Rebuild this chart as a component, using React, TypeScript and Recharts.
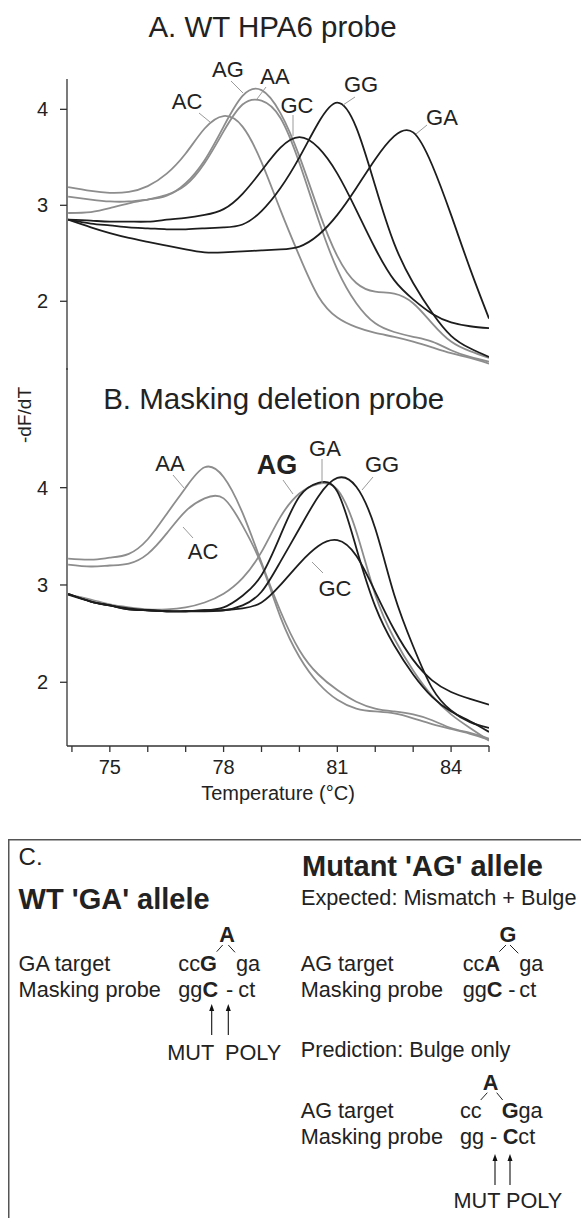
import { Label, Line, LineChart, XAxis, YAxis } from "recharts"

// temperature grid (°C) shared by every melt curve
const temps = [73.9, 74.5, 75, 75.5, 76, 76.5, 77, 77.5, 78, 78.5, 79, 79.5, 80, 80.5, 81, 81.5, 82, 82.5, 83, 83.5, 84, 84.5, 85]

// A. WT HPA6 probe, -dF/dT
const wtAC = [3.19, 3.15, 3.13, 3.14, 3.2, 3.33, 3.54, 3.8, 3.93, 3.82, 3.45, 2.95, 2.47, 2.05, 1.83, 1.73, 1.67, 1.63, 1.58, 1.52, 1.46, 1.41, 1.35]
const wtAG = [3.09, 3.06, 3.04, 3.04, 3.06, 3.1, 3.23, 3.47, 3.82, 4.14, 4.2, 3.96, 3.51, 2.95, 2.47, 2.19, 2.1, 2.08, 1.98, 1.77, 1.58, 1.48, 1.41]
const wtAA = [2.92, 2.93, 2.97, 3.02, 3.06, 3.11, 3.21, 3.44, 3.77, 4.05, 4.09, 3.91, 3.44, 2.85, 2.33, 1.98, 1.77, 1.68, 1.63, 1.58, 1.49, 1.42, 1.37]
const wtGC = [2.85, 2.84, 2.83, 2.83, 2.83, 2.85, 2.87, 2.9, 2.96, 3.12, 3.36, 3.6, 3.71, 3.6, 3.33, 2.95, 2.55, 2.22, 2.02, 1.87, 1.78, 1.74, 1.72]
const wtGG = [2.85, 2.81, 2.79, 2.77, 2.76, 2.75, 2.75, 2.76, 2.77, 2.8, 2.94, 3.18, 3.5, 3.86, 4.07, 3.81, 3.2, 2.6, 2.19, 1.88, 1.64, 1.51, 1.42]
const wtGA = [2.85, 2.77, 2.71, 2.66, 2.62, 2.58, 2.54, 2.51, 2.51, 2.52, 2.53, 2.54, 2.57, 2.69, 2.9, 3.18, 3.48, 3.72, 3.76, 3.42, 2.9, 2.34, 1.82]

// B. Masking deletion probe, -dF/dT
const maskAA = [3.27, 3.26, 3.28, 3.32, 3.47, 3.73, 4.0, 4.21, 4.11, 3.74, 3.23, 2.73, 2.33, 2.08, 1.92, 1.8, 1.73, 1.7, 1.67, 1.61, 1.53, 1.48, 1.42]
const maskAC = [3.21, 3.19, 3.2, 3.22, 3.32, 3.53, 3.76, 3.89, 3.89, 3.61, 3.21, 2.67, 2.26, 1.99, 1.82, 1.73, 1.7, 1.68, 1.63, 1.57, 1.52, 1.47, 1.41]
const maskAG = [2.9, 2.85, 2.8, 2.77, 2.75, 2.75, 2.77, 2.82, 2.91, 3.07, 3.34, 3.7, 3.94, 4.04, 3.98, 3.55, 2.9, 2.45, 2.12, 1.86, 1.67, 1.53, 1.4]
const maskGA = [2.91, 2.83, 2.79, 2.75, 2.74, 2.73, 2.73, 2.74, 2.77, 2.89, 3.1, 3.51, 3.91, 4.05, 3.96, 3.38, 2.78, 2.38, 2.08, 1.85, 1.7, 1.6, 1.49]
const maskGG = [2.91, 2.83, 2.79, 2.76, 2.74, 2.73, 2.73, 2.74, 2.74, 2.79, 2.93, 3.24, 3.58, 3.91, 4.1, 4.01, 3.58, 2.9, 2.37, 1.94, 1.71, 1.59, 1.53]
const maskGC = [2.9, 2.83, 2.79, 2.75, 2.74, 2.73, 2.73, 2.73, 2.74, 2.76, 2.82, 3.0, 3.22, 3.4, 3.46, 3.3, 2.93, 2.54, 2.23, 2.02, 1.9, 1.83, 1.77]

const yTicks = [2, 3, 4]
const xTicks = [74, 75, 76, 77, 78, 79, 80, 81, 82, 83, 84, 85]
const xTickLabels = [75, 78, 81, 84]

const GRAY = "#8d8d8d"
const DARK = "#1d1d1d"
const INK = "#222"
const FONT = "'Liberation Sans', Arial, Helvetica, sans-serif"

interface Series {
  name: string
  values: number[]
  color: string
}

const wtSeries: Series[] = [
  { name: "AC", values: wtAC, color: GRAY },
  { name: "AG", values: wtAG, color: GRAY },
  { name: "AA", values: wtAA, color: GRAY },
  { name: "GC", values: wtGC, color: DARK },
  { name: "GG", values: wtGG, color: DARK },
  { name: "GA", values: wtGA, color: DARK },
]

const maskSeries: Series[] = [
  { name: "AA", values: maskAA, color: GRAY },
  { name: "AC", values: maskAC, color: GRAY },
  { name: "AG", values: maskAG, color: GRAY },
  { name: "GA", values: maskGA, color: DARK },
  { name: "GG", values: maskGG, color: DARK },
  { name: "GC", values: maskGC, color: DARK },
]

function toRows(series: Series[]) {
  return temps.map((t, i) => {
    const row: Record<string, number> = { t }
    series.forEach((s) => {
      row[s.name] = s.values[i]
    })
    return row
  })
}

const axisStyle = { stroke: "#333", strokeWidth: 1.3 }
const tickStyle = { fontSize: 20, fill: INK, fontFamily: FONT }

// curve labels with their grey leader lines (page pixels)
const curveLabels = [
  { text: "AC", x: 187, y: 109, line: [199, 113, 210, 122] },
  { text: "AG", x: 228, y: 77, line: [231, 81, 243, 93] },
  { text: "AA", x: 275, y: 84, line: [266, 87, 257, 99] },
  { text: "GC", x: 297, y: 113, line: [293, 115, 293, 136] },
  { text: "GG", x: 361, y: 92, line: [355, 97, 343, 105] },
  { text: "GA", x: 442, y: 125, line: [427, 125, 416, 134] },
  { text: "AA", x: 170, y: 471, line: [173, 475, 184, 488] },
  { text: "AC", x: 203, y: 559, line: [193, 538, 183, 527] },
  { text: "AG", x: 277, y: 474, line: [283, 480, 293, 494], bold: true },
  { text: "GA", x: 325, y: 456, line: [322, 459, 322, 484] },
  { text: "GG", x: 382, y: 472, line: [373, 477, 362, 490] },
  { text: "GC", x: 335, y: 596, line: [323, 573, 312, 562] },
]

function Arrow({ x, y1, y2 }: { x: number; y1: number; y2: number }) {
  return (
    <g>
      <line x1={x} y1={y1} x2={x} y2={y2 + 5} stroke="#111" strokeWidth={1.1} />
      <polygon points={`${x - 2.5},${y2 + 7} ${x},${y2} ${x + 2.5},${y2 + 7}`} fill="#111" />
    </g>
  )
}

function Caret({ pts }: { pts: number[] }) {
  const [a, b, c, d, e, f, g, h] = pts
  return (
    <g stroke="#222" strokeWidth={1}>
      <line x1={a} y1={b} x2={c} y2={d} />
      <line x1={e} y1={f} x2={g} y2={h} />
    </g>
  )
}

function PanelC() {
  const fs = 21.7
  return (
    <g fontFamily={FONT} fill={INK}>
      <rect x={8.75} y={839.75} width={700} height={500} fill="none" stroke="#555" strokeWidth={1.5} />
      <text x={18.6} y={865} fontSize={24}>C.</text>
      <text x={18.6} y={909} fontSize={29} fontWeight="bold">WT 'GA' allele</text>
      <text x={302} y={876} fontSize={29} fontWeight="bold">Mutant 'AG' allele</text>
      <text x={301} y={905} fontSize={fs}>Expected: Mismatch + Bulge</text>

      <g fontSize={fs}>
        <text x={18.6} y={971}>GA target</text>
        <text x={18.6} y={997}>Masking probe</text>
        <text x={227} y={942} textAnchor="middle" fontWeight="bold">A</text>
        <Caret pts={[216.7, 951.7, 222.7, 945, 228.3, 945, 235, 952.3]} />
        <text x={178.3} y={971}>
          cc<tspan fontWeight="bold">G</tspan>
          <tspan x={236}>ga</tspan>
        </text>
        <text x={178.3} y={997}>
          gg<tspan fontWeight="bold">C</tspan>
          <tspan x={226}>-</tspan>
          <tspan x={238.3}>ct</tspan>
        </text>
        <Arrow x={211.7} y1={1035} y2={1004} />
        <Arrow x={228.3} y1={1035} y2={1004} />
        <text x={167.3} y={1060}>MUT</text>
        <text x={225} y={1060}>POLY</text>

        <text x={300.7} y={971}>AG target</text>
        <text x={300.7} y={997}>Masking probe</text>
        <text x={508} y={942} textAnchor="middle" fontWeight="bold">G</text>
        <Caret pts={[499.3, 951.7, 506, 945, 510, 945, 518.3, 953.3]} />
        <text x={462.7} y={971}>
          cc<tspan fontWeight="bold">A</tspan>
          <tspan x={519.3}>ga</tspan>
        </text>
        <text x={462.7} y={997}>
          gg<tspan fontWeight="bold">C</tspan>
          <tspan x={508.3}>-</tspan>
          <tspan x={519.3}>ct</tspan>
        </text>

        <text x={300.7} y={1057}>Prediction: Bulge only</text>
        <text x={490.7} y={1090} textAnchor="middle" fontWeight="bold">A</text>
        <Caret pts={[480.7, 1100, 487.3, 1092.7, 496.7, 1092.7, 502.7, 1100]} />
        <text x={300.7} y={1118}>AG target</text>
        <text x={300.7} y={1144}>Masking probe</text>
        <text x={460} y={1118}>
          cc
          <tspan x={501.7} fontWeight="bold">G</tspan>
          <tspan>ga</tspan>
        </text>
        <text x={460} y={1144}>
          gg
          <tspan x={490}>-</tspan>
          <tspan x={502.7} fontWeight="bold">C</tspan>
          <tspan>ct</tspan>
        </text>
        <Arrow x={495} y1={1185} y2={1154} />
        <Arrow x={510} y1={1185} y2={1154} />
        <text x={453.5} y={1208}>MUT</text>
        <text x={506} y={1208}>POLY</text>
      </g>
    </g>
  )
}

export default function App() {
  return (
    <div style={{ position: "absolute", left: 0, top: 0, width: 581, height: 1218, overflow: "hidden", background: "#fff", fontFamily: FONT }}>
      {/* A. WT HPA6 probe */}
      <div style={{ position: "absolute", left: 0, top: 0 }}>
        <LineChart width={581} height={370} data={toRows(wtSeries)} margin={{ top: 79, right: 92, bottom: 0, left: 0 }}>
          <XAxis dataKey="t" type="number" domain={[73.87, 85]} allowDataOverflow hide />
          <YAxis
            type="number"
            domain={[1.284, 4.316]}
            allowDataOverflow
            ticks={yTicks}
            interval={0}
            width={67}
            tickSize={7}
            tickMargin={12}
            axisLine={axisStyle}
            tickLine={axisStyle}
            tick={tickStyle}
          />
          {wtSeries.map((s) => (
            <Line key={s.name} dataKey={s.name} type="natural" stroke={s.color} strokeWidth={1.8} dot={false} isAnimationActive={false} />
          ))}
        </LineChart>
      </div>

      {/* B. Masking deletion probe */}
      <div style={{ position: "absolute", left: 0, top: 368 }}>
        <LineChart width={581} height={438} data={toRows(maskSeries)} margin={{ top: 0, right: 92, bottom: 0, left: 0 }}>
          <XAxis
            dataKey="t"
            type="number"
            domain={[73.87, 85]}
            allowDataOverflow
            ticks={xTicks}
            interval={0}
            tickFormatter={(v: number) => (xTickLabels.includes(v) ? String(v) : "")}
            height={60}
            tickSize={6}
            tickMargin={8}
            axisLine={axisStyle}
            tickLine={axisStyle}
            tick={tickStyle}
          >
            <Label value="Temperature (°C)" position="insideBottom" offset={6} fontSize={20} fill={INK} fontFamily={FONT} />
          </XAxis>
          <YAxis
            type="number"
            domain={[1.345, 5.23]}
            allowDataOverflow
            ticks={yTicks}
            interval={0}
            width={67}
            tickSize={7}
            tickMargin={12}
            axisLine={axisStyle}
            tickLine={axisStyle}
            tick={tickStyle}
          />
          {maskSeries.map((s) => (
            <Line key={s.name} dataKey={s.name} type="natural" stroke={s.color} strokeWidth={1.8} dot={false} isAnimationActive={false} />
          ))}
        </LineChart>
      </div>

      <svg width={581} height={1218} style={{ position: "absolute", left: 0, top: 0, pointerEvents: "none" }}>
        <g fontFamily={FONT} fill={INK}>
          <text x={272.5} y={36.5} fontSize={29.5} textAnchor="middle">A. WT HPA6 probe</text>
          <text x={273.7} y={409} fontSize={29.5} textAnchor="middle">B. Masking deletion probe</text>
          <text x={24} y={415} fontSize={19} textAnchor="middle" dominantBaseline="central" transform="rotate(-90 24 415)">-dF/dT</text>
          {curveLabels.map((l, i) => (
            <g key={i}>
              <line x1={l.line[0]} y1={l.line[1]} x2={l.line[2]} y2={l.line[3]} stroke="#9a9a9a" strokeWidth={1} />
              <text x={l.x} y={l.y} fontSize={l.bold ? 27 : 22} fontWeight={l.bold ? "bold" : "normal"} textAnchor="middle">{l.text}</text>
            </g>
          ))}
        </g>
        <PanelC />
      </svg>
    </div>
  )
}
